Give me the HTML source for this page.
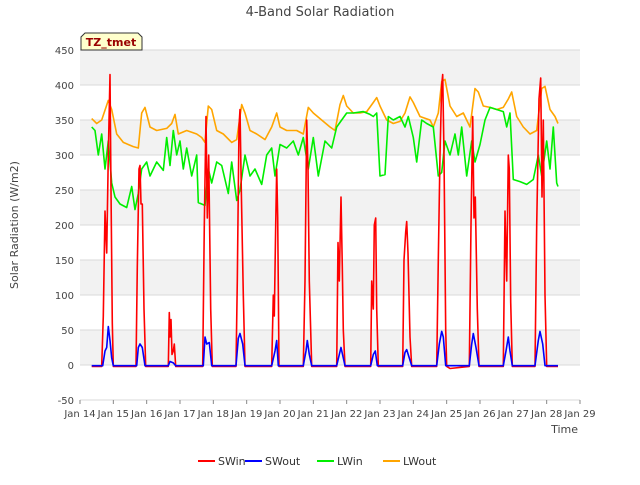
<!DOCTYPE html>
<html><head><meta charset="utf-8"><style>
body{margin:0;background:#fff;font-family:"Liberation Sans","DejaVu Sans",sans-serif}
svg text{font-family:"DejaVu Sans","Liberation Sans",sans-serif}
</style></head><body>
<svg id="c" width="640" height="480" xmlns="http://www.w3.org/2000/svg"></svg>
<script>
const yTicks=[-50,0,50,100,150,200,250,300,350,400,450];
const xTickLabels=["Jan 14","Jan 15","Jan 16","Jan 17","Jan 18","Jan 19","Jan 20","Jan 21","Jan 22","Jan 23","Jan 24","Jan 25","Jan 26","Jan 27","Jan 28","Jan 29"];
const seriesNames=["SWin","SWout","LWin","LWout"];
const lwout=[[0.35,352],[0.5,345],[0.65,350],[0.85,378],[0.95,365],[1.1,330],[1.3,318],[1.6,312],[1.75,310],[1.85,360],[1.95,368],[2.1,340],[2.3,335],[2.6,338],[2.75,345],[2.85,358],[2.95,330],[3.2,335],[3.5,330],[3.65,325],[3.75,318],[3.85,370],[3.95,365],[4.1,335],[4.3,330],[4.55,318],[4.7,322],[4.85,372],[4.95,360],[5.1,335],[5.3,330],[5.55,322],[5.75,340],[5.9,360],[6.0,340],[6.2,335],[6.5,335],[6.7,330],[6.85,368],[7.0,360],[7.2,352],[7.5,340],[7.65,335],[7.8,372],[7.9,385],[8.0,370],[8.2,360],[8.4,360],[8.6,362],[8.8,375],[8.9,382],[9.0,370],[9.2,350],[9.4,345],[9.6,348],[9.75,360],[9.9,383],[10.0,375],[10.2,355],[10.5,350],[10.6,340],[10.75,360],[10.85,405],[10.95,408],[11.1,370],[11.3,355],[11.5,360],[11.7,340],[11.85,395],[11.95,390],[12.1,370],[12.3,368],[12.5,365],[12.7,368],[12.85,380],[12.95,390],[13.1,355],[13.3,340],[13.5,330],[13.7,335],[13.85,395],[13.95,398],[14.1,365],[14.25,355],[14.34,345]];
const lwin=[[0.35,340],[0.45,335],[0.55,300],[0.65,330],[0.75,280],[0.85,320],[0.95,260],[1.05,240],[1.2,230],[1.4,225],[1.55,255],[1.65,222],[1.75,245],[1.85,280],[2.0,290],[2.1,270],[2.3,290],[2.5,278],[2.6,325],[2.7,285],[2.8,335],[2.9,300],[3.0,320],[3.1,280],[3.2,310],[3.35,270],[3.5,300],[3.55,232],[3.75,228],[3.85,280],[3.95,260],[4.1,290],[4.25,285],[4.45,245],[4.55,290],[4.7,235],[4.8,250],[4.95,300],[5.1,270],[5.25,280],[5.45,258],[5.6,300],[5.75,310],[5.85,270],[6.0,315],[6.2,310],[6.4,320],[6.55,300],[6.7,325],[6.85,280],[7.0,325],[7.15,270],[7.35,320],[7.55,310],[7.7,340],[7.85,350],[8.0,360],[8.2,360],[8.5,362],[8.7,358],[8.8,355],[8.9,360],[9.0,270],[9.15,272],[9.25,355],[9.4,350],[9.6,355],[9.75,340],[9.85,355],[10.0,325],[10.1,290],[10.25,350],[10.4,345],[10.6,340],[10.75,270],[10.85,275],[10.95,320],[11.1,300],[11.25,330],[11.35,300],[11.45,340],[11.6,270],[11.75,320],[11.85,290],[12.0,315],[12.15,350],[12.3,368],[12.5,365],[12.7,362],[12.8,340],[12.9,360],[13.0,265],[13.2,262],[13.4,258],[13.6,265],[13.75,300],[13.85,270],[14.0,320],[14.1,280],[14.2,340],[14.3,260],[14.34,255]];
const swin=[[0.35,-2],[0.65,-2],[0.7,70],[0.75,220],[0.8,160],[0.85,300],[0.9,415],[0.93,250],[0.97,60],[1.0,-2],[1.68,-2],[1.72,140],[1.77,280],[1.8,285],[1.83,230],[1.87,230],[1.92,80],[1.97,-2],[2.65,-2],[2.68,75],[2.7,40],[2.73,65],[2.76,15],[2.8,20],[2.83,30],[2.87,-2],[3.68,-2],[3.73,200],[3.78,355],[3.82,210],[3.86,300],[3.92,80],[3.97,-2],[4.68,-2],[4.72,120],[4.77,340],[4.8,365],[4.84,250],[4.9,100],[4.95,-2],[5.75,-2],[5.8,100],[5.83,70],[5.87,200],[5.9,280],[5.93,210],[5.97,-2],[6.7,-2],[6.75,120],[6.8,350],[6.84,280],[6.88,120],[6.95,-2],[7.7,-2],[7.74,175],[7.78,120],[7.83,240],[7.87,140],[7.9,50],[7.95,-2],[8.72,-2],[8.75,120],[8.8,80],[8.83,200],[8.87,210],[8.9,80],[8.95,-2],[9.68,-2],[9.72,150],[9.77,190],[9.8,205],[9.84,160],[9.9,40],[9.95,-2],[10.7,-2],[10.75,150],[10.8,300],[10.85,400],[10.88,415],[10.92,300],[10.97,50],[11.0,-2],[11.1,-5],[11.68,-2],[11.73,200],[11.78,355],[11.82,210],[11.86,240],[11.92,80],[11.97,-2],[12.7,-2],[12.75,220],[12.8,120],[12.85,300],[12.88,280],[12.92,90],[12.97,-2],[13.65,-2],[13.7,200],[13.77,380],[13.82,410],[13.86,240],[13.9,350],[13.95,100],[14.0,-2],[14.34,-2]];
const swout=[[0.35,-1],[0.68,-1],[0.75,20],[0.8,25],[0.85,55],[0.9,35],[0.95,10],[1.0,-1],[1.7,-1],[1.75,25],[1.8,30],[1.87,25],[1.95,-1],[2.65,-1],[2.7,5],[2.8,3],[2.87,-1],[3.7,-1],[3.75,40],[3.8,30],[3.88,32],[3.95,-1],[4.68,-1],[4.75,38],[4.8,45],[4.88,30],[4.95,-1],[5.75,-1],[5.85,20],[5.9,35],[5.95,-1],[6.7,-1],[6.78,20],[6.82,35],[6.88,15],[6.95,-1],[7.7,-1],[7.78,15],[7.83,25],[7.9,10],[7.95,-1],[8.72,-1],[8.8,15],[8.86,20],[8.92,-1],[9.68,-1],[9.75,18],[9.8,22],[9.88,10],[9.95,-1],[10.7,-1],[10.78,30],[10.85,48],[10.9,40],[10.97,-1],[11.68,-1],[11.75,30],[11.8,45],[11.88,25],[11.97,-1],[12.7,-1],[12.78,20],[12.85,40],[12.9,20],[12.97,-1],[13.65,-1],[13.75,35],[13.8,48],[13.88,30],[13.95,-1],[14.34,-1]];

const NS="http://www.w3.org/2000/svg";
const svg=document.getElementById('c');
const L=80,R=580,T=50,B=400;
const X=t=>L+(R-L)*t/15;
const Y=v=>B-(v+50)*(B-T)/500;
function mk(tag,attrs,parent){const e=document.createElementNS(NS,tag);for(const k in attrs)e.setAttribute(k,attrs[k]);(parent||svg).appendChild(e);return e;}
const bg=mk('rect',{x:L,y:T,width:R-L,height:B-T,fill:'#ffffff'});


for(let i=0;i<yTicks.length-1;i++){
  if((yTicks[i]/50)%2===0){const b=mk('rect',{x:L,y:Y(yTicks[i+1]),width:R-L,height:Y(yTicks[i])-Y(yTicks[i+1]),fill:'#f2f2f2'});
  
  }
}
yTicks.forEach(v=>{
  const g=mk('line',{x1:L,x2:R,y1:Y(v),y2:Y(v),stroke:'#d9d9d9','stroke-width':1});
  
  
  const t=mk('text',{x:L-6,y:Y(v)+4,'text-anchor':'end','font-size':10,fill:'#444'});t.textContent=v;
  
  
});
xTickLabels.forEach((s,i)=>{
  const t=mk('text',{x:X(i),y:B+17,'text-anchor':'middle','font-size':10,fill:'#444'});t.textContent=s;
  
  
  const tk=mk('line',{x1:X(i),x2:X(i),y1:B,y2:B+4,stroke:'#888'});
  
  
});
const colors=['#ff0000','#0000ff','#00ee00','#ffa500'];
const data=[swin,swout,lwin,lwout];
[3,2,0,1].forEach(i=>{
  const p=mk('polyline',{points:data[i].map(d=>X(d[0]).toFixed(1)+','+Y(d[1]).toFixed(1)).join(' '),fill:'none',stroke:colors[i],'stroke-width':1.6,'stroke-linejoin':'round'});
  
  
});
const ttl=mk('text',{x:320,y:16,'text-anchor':'middle','font-size':13,fill:'#444'});ttl.textContent='4-Band Solar Radiation';


const yl=mk('text',{x:18,y:225,'text-anchor':'middle','font-size':11,fill:'#444',transform:'rotate(-90 18 225)'});yl.textContent='Solar Radiation (W/m2)';


const xl=mk('text',{x:578,y:433,'text-anchor':'end','font-size':11,fill:'#444'});xl.textContent='Time';


const tz=mk('path',{d:'M81,50 L81,37 L85,33 L138,33 L142,37 L142,50 Z',fill:'#ffffcc',stroke:'#333','stroke-width':1});


const tzt=mk('text',{x:111,y:46,'text-anchor':'middle','font-size':11,'font-weight':'bold',fill:'#990000'});tzt.textContent='TZ_tmet';


const lx=[198,245,317,383];
seriesNames.forEach((s,i)=>{
  const ln=mk('line',{x1:lx[i],x2:lx[i]+17,y1:461,y2:461,stroke:colors[i],'stroke-width':2});
  
  
  const t=mk('text',{x:lx[i]+20,y:465,'font-size':11,fill:'#333'});t.textContent=s;
  
  
});
</script>
</body></html>
